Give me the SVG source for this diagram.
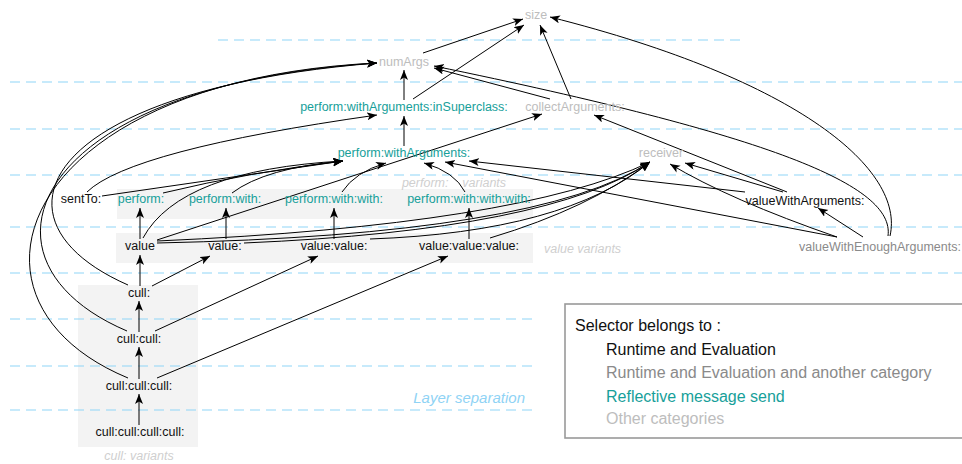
<svg xmlns="http://www.w3.org/2000/svg" width="962" height="464" viewBox="0 0 962 464">
<style>
text{font-family:"Liberation Sans",Arial,sans-serif;font-size:12.5px;text-anchor:middle}
.blk{fill:#111}
.teal{fill:#17a09a}
.lg{fill:#bdbdbd}
.mg{fill:#8a8a8a}
.grp{fill:#cfcfcf;font-style:italic}
.box{fill:#f3f3f3}
.sep{stroke:#8fd6f7;stroke-width:1.2;stroke-dasharray:10 6;fill:none}
.e{fill:none;stroke:#000;stroke-width:1;marker-end:url(#ah)}
.leg{text-anchor:start;font-size:16px}
</style>
<defs>
<marker id="ah" markerUnits="userSpaceOnUse" markerWidth="11" markerHeight="9" refX="10" refY="4" orient="auto">
<path d="M0,0 L10,4 L0,8 L2.5,4 z" fill="#000"/>
</marker>
</defs>
<rect width="962" height="464" fill="#fff"/>
<g id="groups">
<rect class="box" x="117" y="189" width="416" height="30"/>
<rect class="box" x="116" y="233" width="417" height="30"/>
<rect class="box" x="78" y="285" width="120" height="162"/>
<text class="grp" x="454" y="187" style="white-space:pre">perform:    variants</text>
<text class="grp" x="544" y="253" style="text-anchor:start">value variants</text>
<text class="grp" x="139" y="460">cull: variants</text>
</g>
<g id="layers">
<line class="sep" x1="218" y1="40" x2="742" y2="40"/>
<line class="sep" x1="10" y1="82" x2="962" y2="82"/>
<line class="sep" x1="10" y1="129" x2="962" y2="129"/>
<line class="sep" x1="10" y1="175" x2="962" y2="175"/>
<line class="sep" x1="10" y1="227" x2="962" y2="227"/>
<line class="sep" x1="10" y1="273" x2="962" y2="273"/>
<line class="sep" x1="10" y1="319" x2="533" y2="319"/>
<line class="sep" x1="10" y1="366" x2="533" y2="366"/>
<line class="sep" x1="10" y1="410" x2="533" y2="410"/>
<text x="525" y="403" style="text-anchor:end;fill:#8fd3f5;font-style:italic;font-size:15px">Layer separation</text>
</g>
<g id="connectors">
<path class="e" d="M404,100 L404,70"/>
<path class="e" d="M404,146 L404,116"/>
<path class="e" d="M413,99 L524,25"/>
<path class="e" d="M423,53 L523,19"/>
<path class="e" d="M571,99 L540,25"/>
<path class="e" d="M890,236 C905,170 800,80 550,17"/>
<path class="e" d="M888,236 C895,185 770,135 434,66"/>
<path class="e" d="M550,99 L434,68"/>
<path class="e" d="M787,192 L594,115"/>
<path class="e" d="M783,192 L685,163"/>
<path class="e" d="M745,192 L469,161"/>
<path class="e" d="M837,237 L445,162"/>
<path class="e" d="M837,237 Q730,200 670,164"/>
<path class="e" d="M863,237 L818,208"/>
<path class="e" d="M157,240 L542,114"/>
<path class="e" d="M87,192 Q130,150 377,115"/>
<path class="e" d="M102,196 L343,161"/>
<path class="e" d="M163,193 Q250,172 343,161"/>
<path class="e" d="M232,193 Q265,168 343,161"/>
<path class="e" d="M143,238 Q180,170 343,161"/>
<path class="e" d="M342,192 Q355,172 386,163"/>
<path class="e" d="M465,192 Q455,172 424,163"/>
<path class="e" d="M128,285 C-20,220 40,90 377,63"/>
<path class="e" d="M127,331 C-40,260 30,85 377,63"/>
<path class="e" d="M128,378 C-60,300 20,80 377,63"/>
<path class="e" d="M157,241 Q520,225 650,162"/>
<path class="e" d="M157,243 Q540,235 650,162"/>
<path class="e" d="M244,243 Q550,230 650,162"/>
<path class="e" d="M370,239 Q565,232 650,162"/>
<path class="e" d="M490,238 Q590,208 650,162"/>
<path class="e" d="M140,239 L140,208"/>
<path class="e" d="M226,239 L226,208"/>
<path class="e" d="M334,239 L334,208"/>
<path class="e" d="M469,239 L469,208"/>
<path class="e" d="M140,286 L140,255"/>
<path class="e" d="M152,286 L210,256"/>
<path class="e" d="M139,332 L139,301"/>
<path class="e" d="M155,331 L318,256"/>
<path class="e" d="M139,379 L139,347"/>
<path class="e" d="M157,378 L448,256"/>
<path class="e" d="M139,425 L139,394"/>
</g>
<g id="n-size"><text class="lg" x="536" y="19">size</text></g>
<g id="n-numArgs"><text class="lg" x="404" y="66">numArgs</text></g>
<g id="n-inSuperclass"><text class="teal" x="404" y="111">perform:withArguments:inSuperclass:</text></g>
<g id="n-collectArguments"><text class="lg" x="575" y="111">collectArguments:</text></g>
<g id="n-performWithArguments"><text class="teal" x="404" y="157">perform:withArguments:</text></g>
<g id="n-receiver"><text class="lg" x="661" y="157">receiver</text></g>
<g id="n-sentTo"><text class="blk" x="81" y="203">sentTo:</text></g>
<g id="n-perform"><text class="teal" x="141" y="203">perform:</text></g>
<g id="n-performWith"><text class="teal" x="225" y="203">perform:with:</text></g>
<g id="n-performWithWith"><text class="teal" x="334" y="203">perform:with:with:</text></g>
<g id="n-performWithWithWith"><text class="teal" x="469" y="203">perform:with:with:with:</text></g>
<g id="n-valueWithArguments"><text class="blk" x="805" y="205">valueWithArguments:</text></g>
<g id="n-value"><text class="blk" x="140" y="250">value</text></g>
<g id="n-value1"><text class="blk" x="225" y="250">value:</text></g>
<g id="n-value2"><text class="blk" x="334" y="250">value:value:</text></g>
<g id="n-value3"><text class="blk" x="469" y="250">value:value:value:</text></g>
<g id="n-valueWithEnoughArguments"><text class="mg" x="880" y="251">valueWithEnoughArguments:</text></g>
<g id="n-cull1"><text class="blk" x="139" y="297">cull:</text></g>
<g id="n-cull2"><text class="blk" x="139" y="343">cull:cull:</text></g>
<g id="n-cull3"><text class="blk" x="139" y="390">cull:cull:cull:</text></g>
<g id="n-cull4"><text class="blk" x="140" y="436">cull:cull:cull:cull:</text></g>
<g id="legend">
<rect x="565" y="304" width="420" height="134" fill="#fff" stroke="#999" stroke-width="1.6"/>
<text class="leg" x="575" y="331" fill="#111">Selector belongs to :</text>
<text class="leg" x="606" y="355" fill="#111">Runtime and Evaluation</text>
<text class="leg" x="606" y="378" fill="#8a8a8a">Runtime and Evaluation and another category</text>
<text class="leg" x="606" y="402" fill="#17a09a">Reflective message send</text>
<text class="leg" x="606" y="424" fill="#bdbdbd">Other categories</text>
</g>
</svg>
